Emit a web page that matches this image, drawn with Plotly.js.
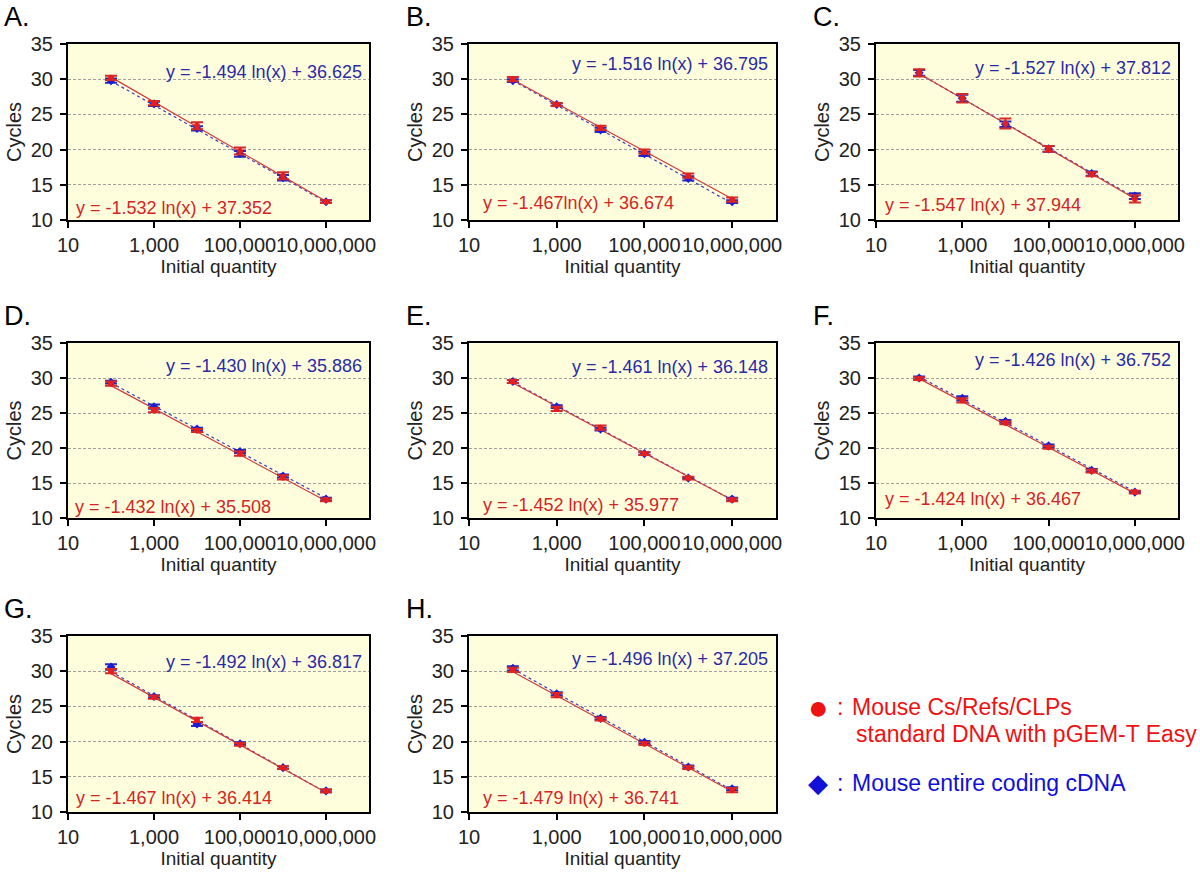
<!DOCTYPE html>
<html>
<head>
<meta charset="utf-8">
<script src="https://cdn.plot.ly/plotly-3.0.1.min.js"></script>
<style>html,body{margin:0;padding:0;background:#fff;}#chart{width:1200px;height:873px;}</style>
</head>
<body>
<div id="chart"></div>
<script>
// ---------------- DATA ----------------
const quantities = [100, 1000, 10000, 100000, 1000000, 10000000];
const panelLabels = ['A.', 'B.', 'C.', 'D.', 'E.', 'F.', 'G.', 'H.'];
const xTickVals = [10, 1000, 100000, 10000000];
const xTickText = ['10', '1,000', '100,000', '10,000,000'];
const yTickVals = [10, 15, 20, 25, 30, 35];

// Red circles: Mouse Cs/Refs/CLPs standard DNA with pGEM-T Easy
const stdCycles = [
  [30.2, 26.6, 23.4, 19.8, 16.3, 12.6],
  [30.0, 26.4, 23.1, 19.7, 16.3, 12.9],
  [30.9, 27.3, 23.7, 20.1, 16.5, 13.0],
  [29.2, 25.4, 22.5, 19.2, 15.8, 12.6],
  [29.5, 25.6, 22.9, 19.2, 15.7, 12.6],
  [29.9, 26.8, 23.6, 20.1, 16.7, 13.7],
  [30.0, 26.3, 23.1, 19.6, 16.3, 13.0],
  [30.2, 26.6, 23.2, 19.7, 16.3, 13.1]
];
const stdErr = [
  [0.3, 0.3, 0.5, 0.5, 0.5, 0.2],
  [0.3, 0.2, 0.3, 0.3, 0.3, 0.3],
  [0.5, 0.6, 0.7, 0.4, 0.3, 0.5],
  [0.3, 0.3, 0.2, 0.3, 0.3, 0.2],
  [0.2, 0.3, 0.3, 0.2, 0.2, 0.2],
  [0.2, 0.3, 0.2, 0.2, 0.2, 0.2],
  [0.3, 0.2, 0.3, 0.2, 0.2, 0.2],
  [0.3, 0.3, 0.2, 0.2, 0.2, 0.3]
];
const stdSlope = [-1.532, -1.467, -1.547, -1.432, -1.452, -1.424, -1.467, -1.479];
const stdIntercept = [37.352, 36.674, 37.944, 35.508, 35.977, 36.467, 36.414, 36.741];
const stdEquation = [
  'y = -1.532 ln(x) + 37.352', 'y = -1.467ln(x) + 36.674', 'y = -1.547 ln(x) + 37.944',
  'y = -1.432 ln(x) + 35.508', 'y = -1.452 ln(x) + 35.977', 'y = -1.424 ln(x) + 36.467',
  'y = -1.467 ln(x) + 36.414', 'y = -1.479 ln(x) + 36.741'
];

// Blue diamonds: Mouse entire coding cDNA
const cdnaCycles = [
  [29.8, 26.5, 23.0, 19.4, 16.0, 12.6],
  [29.8, 26.4, 22.8, 19.4, 15.9, 12.6],
  [30.9, 27.3, 23.6, 20.1, 16.6, 13.4],
  [29.4, 25.9, 22.7, 19.5, 16.0, 12.7],
  [29.5, 25.9, 22.7, 19.2, 15.7, 12.7],
  [30.0, 27.1, 23.8, 20.3, 16.8, 13.7],
  [30.6, 26.4, 22.5, 19.7, 16.3, 13.0],
  [30.4, 26.8, 23.3, 19.9, 16.4, 13.3]
];
const cdnaErr = [
  [0.3, 0.3, 0.3, 0.4, 0.4, 0.2],
  [0.2, 0.2, 0.3, 0.3, 0.3, 0.2],
  [0.4, 0.5, 0.4, 0.4, 0.3, 0.4],
  [0.2, 0.3, 0.2, 0.2, 0.2, 0.2],
  [0.2, 0.2, 0.2, 0.2, 0.1, 0.2],
  [0.2, 0.3, 0.2, 0.2, 0.2, 0.1],
  [0.4, 0.2, 0.3, 0.2, 0.2, 0.2],
  [0.3, 0.2, 0.2, 0.2, 0.2, 0.2]
];
const cdnaSlope = [-1.494, -1.516, -1.527, -1.430, -1.461, -1.426, -1.492, -1.496];
const cdnaIntercept = [36.625, 36.795, 37.812, 35.886, 36.148, 36.752, 36.817, 37.205];
const cdnaEquation = [
  'y = -1.494 ln(x) + 36.625', 'y = -1.516 ln(x) + 36.795', 'y = -1.527 ln(x) + 37.812',
  'y = -1.430 ln(x) + 35.886', 'y = -1.461 ln(x) + 36.148', 'y = -1.426 ln(x) + 36.752',
  'y = -1.492 ln(x) + 36.817', 'y = -1.496 ln(x) + 37.205'
];

const legendStd = ['Mouse Cs/Refs/CLPs', 'standard DNA with pGEM-T Easy'];
const legendCdna = 'Mouse entire coding cDNA';

// ---------------- STYLE / POSITION ----------------
const FONT = 'Liberation Sans, Arial, Helvetica, sans-serif';
const W = 1200, H = 873;
const colDom = [[68, 369], [469, 776], [876, 1178]];   // pixel x
const rowDom = [[44, 220], [343, 518], [636, 812]];    // pixel y (top, bottom)
const blueEqY = [0.84, 0.885, 0.865, 0.87, 0.86, 0.9, 0.855, 0.868];
const redEqY = [0.068, 0.096, 0.085, 0.064, 0.074, 0.106, 0.078, 0.078];
const redEqX = [0.02, 0.04, 0.023, 0.017, 0.04, 0.022, 0.02, 0.04];

const RED = '#e41f1f', RED_LINE = '#d23a3a', RED_TXT = '#d42424';
const BLUE = '#1c1cd6', BLUE_LINE = '#3b3bbf', BLUE_TXT = '#2a2aa6';
const TXT = '#222222';

const traces = [];
const layout = {
  width: W, height: H,
  margin: {l: 0, r: 0, t: 0, b: 0},
  paper_bgcolor: '#ffffff',
  showlegend: false,
  font: {family: FONT, color: TXT},
  annotations: [],
  shapes: []
};

for (let i = 0; i < 8; i++) {
  const row = Math.floor(i / 3), col = i % 3;
  const n = i + 1;
  const xa = 'x' + (n === 1 ? '' : n), ya = 'y' + (n === 1 ? '' : n);
  const xKey = 'xaxis' + (n === 1 ? '' : n), yKey = 'yaxis' + (n === 1 ? '' : n);

  layout[xKey] = {
    domain: [colDom[col][0] / W, colDom[col][1] / W],
    anchor: ya, type: 'log', range: [1, 8],
    tickmode: 'array', tickvals: xTickVals, ticktext: xTickText, tickangle: 0,
    ticks: 'outside', ticklen: 6, tickwidth: 2, tickcolor: '#000',
    showline: true, linewidth: 2, linecolor: '#000', mirror: true,
    showgrid: false, zeroline: false,
    tickfont: {family: FONT, size: 20, color: TXT},
    title: {text: 'Initial quantity', font: {family: FONT, size: 19, color: TXT}, standoff: 4},
    automargin: false, fixedrange: true
  };
  layout[yKey] = {
    domain: [1 - rowDom[row][1] / H, 1 - rowDom[row][0] / H],
    anchor: xa, range: [10, 35],
    tickmode: 'array', tickvals: yTickVals,
    ticks: 'outside', ticklen: 6, tickwidth: 2, tickcolor: '#000',
    ticklabelstandoff: 3,
    showline: true, linewidth: 2, linecolor: '#000', mirror: true,
    showgrid: true, gridcolor: '#a0a0a0', gridwidth: 1, griddash: '3px,2px',
    zeroline: false,
    tickfont: {family: FONT, size: 20, color: TXT},
    title: {text: 'Cycles', font: {family: FONT, size: 20, color: TXT}, standoff: 4},
    automargin: false, fixedrange: true
  };
  layout.shapes.push({type: 'rect', xref: xa + ' domain', yref: ya + ' domain', x0: 0, x1: 1, y0: 0, y1: 1,
    fillcolor: '#fefedd', line: {width: 0}, layer: 'below'});

  // trendlines from the fitted equations
  traces.push({
    x: quantities, y: quantities.map(q => cdnaSlope[i] * Math.log(q) + cdnaIntercept[i]),
    xaxis: xa, yaxis: ya, mode: 'lines', hoverinfo: 'skip',
    line: {color: BLUE_LINE, width: 1.2, dash: 'dot'}
  });
  traces.push({
    x: quantities, y: quantities.map(q => stdSlope[i] * Math.log(q) + stdIntercept[i]),
    xaxis: xa, yaxis: ya, mode: 'lines', hoverinfo: 'skip',
    line: {color: RED_LINE, width: 1.2}
  });
  traces.push({
    x: quantities, y: cdnaCycles[i], xaxis: xa, yaxis: ya, mode: 'markers',
    marker: {symbol: 'diamond', size: 7, color: BLUE},
    error_y: {type: 'data', array: cdnaErr[i], visible: true, color: '#2a2ab8', thickness: 2, width: 6}
  });
  traces.push({
    x: quantities, y: stdCycles[i], xaxis: xa, yaxis: ya, mode: 'markers',
    marker: {symbol: 'circle', size: 6, color: RED},
    error_y: {type: 'data', array: stdErr[i], visible: true, color: '#d42a2a', thickness: 2, width: 6}
  });

  // panel label
  layout.annotations.push({
    text: panelLabels[i], xref: 'paper', yref: 'paper',
    x: (col === 0 ? 2 : colDom[col][0] - 65) / W, xanchor: 'left',
    y: 1 - (rowDom[row][0] - 27) / H, yanchor: 'middle',
    showarrow: false, font: {family: FONT, size: 27, color: '#000'}
  });
  // equations
  layout.annotations.push({
    text: cdnaEquation[i], xref: xa + ' domain', yref: ya + ' domain',
    x: 0.982, xanchor: 'right', y: blueEqY[i], yanchor: 'middle',
    showarrow: false, font: {family: FONT, size: 18, color: BLUE_TXT}
  });
  layout.annotations.push({
    text: stdEquation[i], xref: xa + ' domain', yref: ya + ' domain',
    x: redEqX[i], xanchor: 'left', y: redEqY[i], yanchor: 'middle',
    showarrow: false, font: {family: FONT, size: 18, color: RED_TXT}
  });
}

// legend text in the empty ninth cell
const legItems = [
  {t: '●', x: 818, y: 707, c: '#ee1111', a: 'center', s: 34},
  {t: ':', x: 840, y: 707, c: '#ee1111', a: 'center', s: 23},
  {t: legendStd[0], x: 850, y: 707, c: '#ee1111', a: 'left', s: 23},
  {t: legendStd[1], x: 854, y: 734, c: '#ee1111', a: 'left', s: 23},
  {t: '◆', x: 818, y: 783, c: '#1010d8', a: 'center', s: 26},
  {t: ':', x: 840, y: 783, c: '#1010d8', a: 'center', s: 23},
  {t: legendCdna, x: 850, y: 783, c: '#1010d8', a: 'left', s: 23}
];
legItems.forEach(it => layout.annotations.push({
  text: it.t, xref: 'paper', yref: 'paper', x: it.x / W, y: 1 - it.y / H,
  xanchor: it.a, yanchor: 'middle', showarrow: false,
  font: {family: FONT, size: it.s, color: it.c}
}));

Plotly.newPlot('chart', traces, layout, {staticPlot: true, displayModeBar: false});
</script>
</body>
</html>
